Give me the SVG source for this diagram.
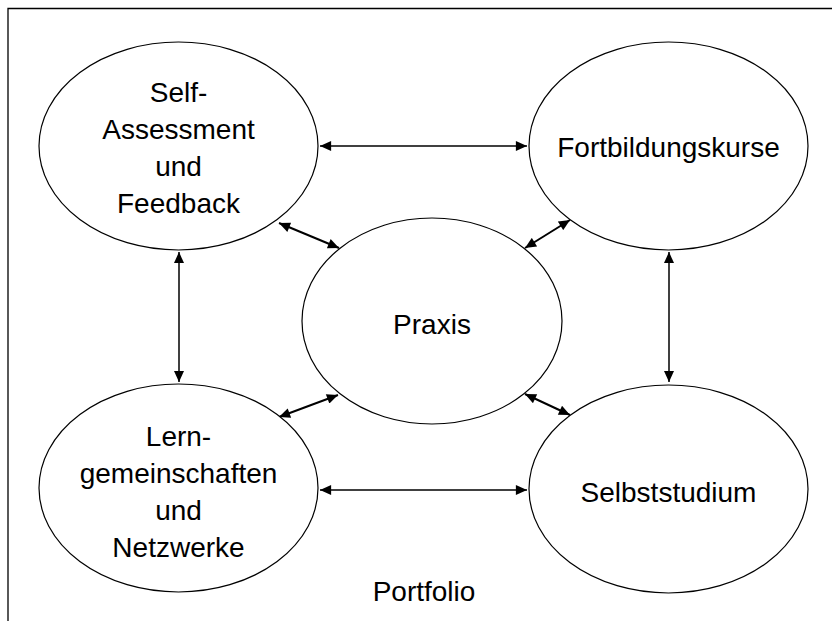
<svg xmlns="http://www.w3.org/2000/svg" width="832" height="621" viewBox="0 0 832 621">
  <defs>
    <style>
      .node ellipse { fill: #ffffff; stroke: #000000; stroke-width: 1.2; }
      .node text { font-family: "Liberation Sans", Arial, sans-serif; font-size: 28px; fill: #000000; text-anchor: middle; }
      .conn line { stroke: #000000; stroke-width: 1.5; marker-start: url(#ah); marker-end: url(#ah); }
      .conn line.diag { stroke-width: 2; }
      .label { font-family: "Liberation Sans", Arial, sans-serif; font-size: 28px; fill: #000000; text-anchor: middle; }
    </style>
    <marker id="ah" markerUnits="userSpaceOnUse" markerWidth="12" markerHeight="10" refX="10" refY="4.5" orient="auto-start-reverse" viewBox="0 0 10 9">
      <path d="M0,0 L10,4.5 L0,9 z" fill="#000000"/>
    </marker>
  </defs>
  <rect width="832" height="621" fill="#ffffff"/>
  <path d="M8,621 L8,8.5 L832,8.5" fill="none" stroke="#000000" stroke-width="1.3"/>

  <g id="connectors" class="conn">
    <line x1="320" y1="146" x2="527" y2="146"/>
    <line x1="320" y1="490" x2="527" y2="490"/>
    <line x1="179" y1="252" x2="179" y2="382"/>
    <line x1="669" y1="252" x2="669" y2="382"/>
    <line class="diag" x1="279" y1="223" x2="339" y2="248"/>
    <line class="diag" x1="525" y1="248" x2="570" y2="220"/>
    <line class="diag" x1="279" y1="417" x2="338" y2="395"/>
    <line class="diag" x1="525" y1="394" x2="570" y2="415"/>
  </g>

  <g id="node-self-assessment" class="node">
    <ellipse cx="178.5" cy="146" rx="139.5" ry="104"/>
    <text x="178.5" y="102">Self-</text>
    <text x="178.5" y="139">Assessment</text>
    <text x="178.5" y="176">und</text>
    <text x="178.5" y="213">Feedback</text>
  </g>

  <g id="node-fortbildungskurse" class="node">
    <ellipse cx="668.5" cy="146" rx="139.5" ry="104"/>
    <text x="668.5" y="157">Fortbildungskurse</text>
  </g>

  <g id="node-praxis" class="node">
    <ellipse cx="432" cy="321" rx="130" ry="103"/>
    <text x="432" y="334">Praxis</text>
  </g>

  <g id="node-lerngemeinschaften" class="node">
    <ellipse cx="178.5" cy="488" rx="139.5" ry="104"/>
    <text x="178.5" y="446">Lern-</text>
    <text x="178.5" y="483">gemeinschaften</text>
    <text x="178.5" y="520">und</text>
    <text x="178.5" y="557">Netzwerke</text>
  </g>

  <g id="node-selbststudium" class="node">
    <ellipse cx="668.5" cy="489" rx="139.5" ry="104"/>
    <text x="668.5" y="502">Selbststudium</text>
  </g>

  <text class="label" x="424" y="601">Portfolio</text>
</svg>
